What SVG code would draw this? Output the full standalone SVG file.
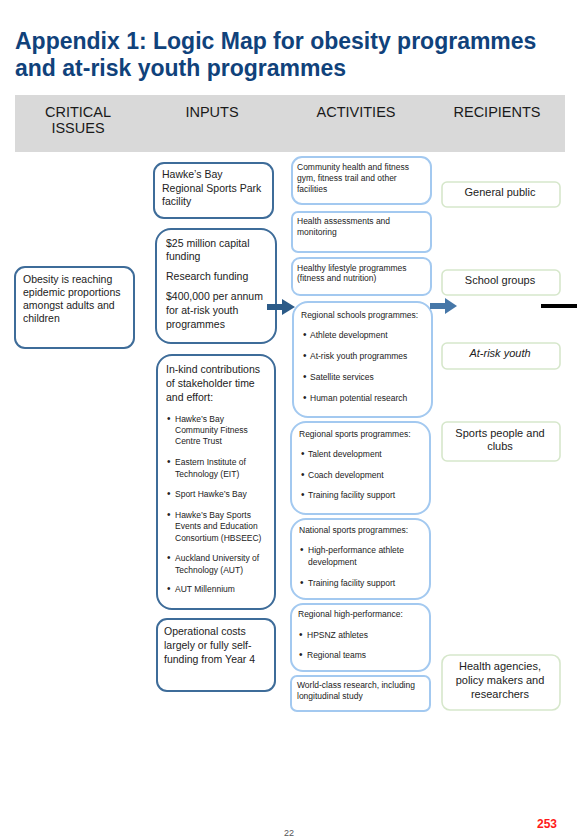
<svg xmlns="http://www.w3.org/2000/svg" width="577" height="837" viewBox="0 0 577 837">
<style>
text{font-family:"Liberation Sans",Arial,sans-serif;fill:#222}
.title{font-size:23px;font-weight:bold;fill:#10427b}
.hdr{font-size:14.5px;fill:#1a1a1a;text-anchor:middle}
.in{fill:#fff;stroke:#3e6c99;stroke-width:2}
.act{fill:#fff;stroke:#a3c9f0;stroke-width:2}
.rec{fill:#fff;stroke:#d6e7cb;stroke-width:1.6}
.t11{font-size:10.5px}
.t9{font-size:8.5px}
.b{font-size:10px}
.r11{font-size:11px;text-anchor:middle}
</style>
<rect width="577" height="837" fill="#fff"/>
<text class="title" x="15" y="49">Appendix 1: Logic Map for obesity programmes</text>
<text class="title" x="15" y="76">and at-risk youth programmes</text>
<g id="header">
<rect x="15" y="95" width="550" height="57" fill="#d9d9d9"/>
<text class="hdr" x="78" y="117">CRITICAL</text>
<text class="hdr" x="78" y="133">ISSUES</text>
<text class="hdr" x="212" y="117">INPUTS</text>
<text class="hdr" x="356" y="117">ACTIVITIES</text>
<text class="hdr" x="497" y="117">RECIPIENTS</text>
</g>
<g id="issue-obesity">
<rect class="in" x="15" y="267" width="119" height="81" rx="10"/>
<text class="t11" x="23" y="283">Obesity is reaching</text>
<text class="t11" x="23" y="296">epidemic proportions</text>
<text class="t11" x="23" y="309">amongst adults and</text>
<text class="t11" x="23" y="322">children</text>
</g>
<g id="input-park">
<rect class="in" x="154" y="163" width="119" height="55" rx="10"/>
<text class="t11" x="162" y="178">Hawke’s Bay</text>
<text class="t11" x="162" y="192">Regional Sports Park</text>
<text class="t11" x="162" y="205">facility</text>
</g>
<g id="input-funding">
<rect class="in" x="156" y="229" width="120" height="114" rx="15"/>
<text class="t11" x="166" y="247">$25 million capital</text>
<text class="t11" x="166" y="260">funding</text>
<text class="t11" x="166" y="280">Research funding</text>
<text class="t11" x="166" y="300">$400,000 per annum</text>
<text class="t11" x="166" y="314">for at-risk youth</text>
<text class="t11" x="166" y="328">programmes</text>
</g>
<g id="input-inkind">
<rect class="in" x="157" y="355" width="118" height="254" rx="15"/>
<text class="t11" x="166" y="373">In-kind contributions</text>
<text class="t11" x="166" y="387">of stakeholder time</text>
<text class="t11" x="166" y="401">and effort:</text>
<g class="t9">
<text class="b" x="167" y="422">•</text><text x="175" y="422">Hawke’s Bay</text>
<text x="175" y="433">Community Fitness</text>
<text x="175" y="444">Centre Trust</text>
<text class="b" x="167" y="465">•</text><text x="175" y="465">Eastern Institute of</text>
<text x="175" y="477">Technology (EIT)</text>
<text class="b" x="167" y="497">•</text><text x="175" y="497">Sport Hawke’s Bay</text>
<text class="b" x="167" y="518">•</text><text x="175" y="518">Hawke’s Bay Sports</text>
<text x="175" y="529">Events and Education</text>
<text x="175" y="541">Consortium (HBSEEC)</text>
<text class="b" x="167" y="561">•</text><text x="175" y="561">Auckland University of</text>
<text x="175" y="573">Technology (AUT)</text>
<text class="b" x="167" y="592">•</text><text x="175" y="592">AUT Millennium</text>
</g>
</g>
<g id="input-operational">
<rect class="in" x="157" y="619" width="118" height="72" rx="10"/>
<text class="t11" x="164" y="635">Operational costs</text>
<text class="t11" x="164" y="649">largely or fully self-</text>
<text class="t11" x="164" y="663">funding from Year 4</text>
</g>
<g id="act-community">
<rect class="act" x="292" y="157" width="139" height="47" rx="10"/>
<text class="t9" x="297" y="170">Community health and fitness</text>
<text class="t9" x="297" y="181">gym, fitness trail and other</text>
<text class="t9" x="297" y="192">facilities</text>
</g>
<g id="act-assessments">
<rect class="act" x="292" y="212" width="139" height="40" rx="6"/>
<text class="t9" x="297" y="224">Health assessments and</text>
<text class="t9" x="297" y="235">monitoring</text>
</g>
<g id="act-lifestyle">
<rect class="act" x="292" y="258" width="139" height="37" rx="8"/>
<text class="t9" x="297" y="271">Healthy lifestyle programmes</text>
<text class="t9" x="297" y="281">(fitness and nutrition)</text>
</g>
<g id="act-schools">
<rect class="act" x="293" y="302" width="139" height="115" rx="15"/>
<g class="t9">
<text x="301" y="318">Regional schools programmes:</text>
<text class="b" x="303" y="338">•</text><text x="310" y="338">Athlete development</text>
<text class="b" x="303" y="359">•</text><text x="310" y="359">At-risk youth programmes</text>
<text class="b" x="303" y="380">•</text><text x="310" y="380">Satellite services</text>
<text class="b" x="303" y="401">•</text><text x="310" y="401">Human potential research</text>
</g>
</g>
<g id="act-sports">
<rect class="act" x="291" y="422" width="139" height="92" rx="15"/>
<g class="t9">
<text x="299" y="437">Regional sports programmes:</text>
<text class="b" x="301" y="457">•</text><text x="308" y="457">Talent development</text>
<text class="b" x="301" y="478">•</text><text x="308" y="478">Coach development</text>
<text class="b" x="301" y="498">•</text><text x="308" y="498">Training facility support</text>
</g>
</g>
<g id="act-national">
<rect class="act" x="291" y="519" width="139" height="80" rx="15"/>
<g class="t9">
<text x="299" y="533">National sports programmes:</text>
<text class="b" x="300" y="553">•</text><text x="308" y="553">High-performance athlete</text>
<text x="308" y="565">development</text>
<text class="b" x="300" y="586">•</text><text x="308" y="586">Training facility support</text>
</g>
</g>
<g id="act-highperf">
<rect class="act" x="291" y="604" width="139" height="67" rx="12"/>
<g class="t9">
<text x="298" y="617">Regional high-performance:</text>
<text class="b" x="299" y="638">•</text><text x="307" y="638">HPSNZ athletes</text>
<text class="b" x="299" y="658">•</text><text x="307" y="658">Regional teams</text>
</g>
</g>
<g id="act-research">
<rect class="act" x="291" y="676" width="139" height="35" rx="6"/>
<text class="t9" x="297" y="688">World-class research, including</text>
<text class="t9" x="297" y="699">longitudinal study</text>
</g>
<g id="rec-public">
<rect class="rec" x="442" y="182" width="118" height="25" rx="5"/>
<text class="r11" x="500" y="196">General public</text>
</g>
<g id="rec-schools">
<rect class="rec" x="442" y="270" width="118" height="25" rx="5"/>
<text class="r11" x="500" y="284">School groups</text>
</g>
<g id="rec-youth">
<rect class="rec" x="442" y="343" width="118" height="26" rx="5"/>
<text class="r11" x="500" y="357" font-style="italic">At-risk youth</text>
</g>
<g id="rec-sports">
<rect class="rec" x="442" y="422" width="118" height="39" rx="5"/>
<text class="r11" x="500" y="437">Sports people and</text>
<text class="r11" x="500" y="450">clubs</text>
</g>
<g id="rec-health">
<rect class="rec" x="442" y="655" width="118" height="55" rx="8"/>
<text class="r11" x="500" y="670">Health agencies,</text>
<text class="r11" x="500" y="684">policy makers and</text>
<text class="r11" x="500" y="698">researchers</text>
</g>
<g id="connectors">
<path d="M267 304 H282 V299 L295 307 L282 315 V310 H267 Z" fill="#2c5b88"/>
<path d="M430 303 H445 V298 L457 306 L445 314 V309 H430 Z" fill="#4677a8"/>
<rect x="541" y="304" width="36" height="4" fill="#000"/>
</g>
<text x="547" y="828" font-size="12" font-weight="bold" text-anchor="middle" style="fill:#ff1a1a">253</text>
<text x="289" y="836" font-size="9" text-anchor="middle" style="fill:#555">22</text>
</svg>
